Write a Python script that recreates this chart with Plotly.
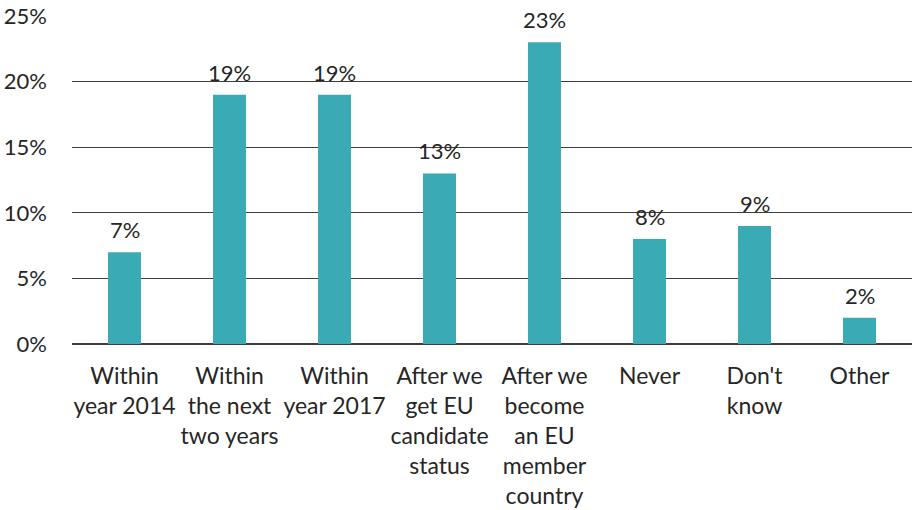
import plotly.graph_objects as go

categories = [
    "Within<br>year 2014",
    "Within<br>the next<br>two years",
    "Within<br>year 2017",
    "After we<br>get EU<br>candidate<br>status",
    "After we<br>become<br>an EU<br>member<br>country",
    "Never",
    "Don't<br>know",
    "Other",
]
shares = [7, 19, 19, 13, 23, 8, 9, 2]
y_ticks = [0, 5, 10, 15, 20, 25]
y_tick_labels = [f"{v}%" for v in y_ticks]

BAR_COLOR = "#3AAAB5"
TEXT_COLOR = "#262626"
FONT = "Lato, 'Open Sans', sans-serif"

fig = go.Figure(
    go.Bar(
        x=categories,
        y=shares,
        marker=dict(color=BAR_COLOR, line=dict(width=0)),
        hoverinfo="skip",
    )
)

# Value labels above each bar
for cat, val in zip(categories, shares):
    fig.add_annotation(
        x=cat, y=val, text=f"{val}%", showarrow=False,
        yanchor="bottom", yshift=7,
        font=dict(family=FONT, size=22, color=TEXT_COLOR),
    )

fig.update_layout(
    width=912, height=510,
    margin=dict(l=72, r=0, t=16, b=166),
    paper_bgcolor="white", plot_bgcolor="white",
    bargap=0.686,
    showlegend=False,
    font=dict(family=FONT, size=22, color=TEXT_COLOR),
)
fig.update_xaxes(
    showgrid=False, showline=False, zeroline=False,
    ticks="", ticklen=0, tickfont=dict(size=23, color=TEXT_COLOR),
    tickangle=0, ticklabelstandoff=16,
)
fig.update_yaxes(
    range=[0, 25], tickvals=y_ticks, ticktext=y_tick_labels,
    showgrid=True, gridcolor="#3c3c3c", gridwidth=1,
    zeroline=True, zerolinecolor="#3c3c3c", zerolinewidth=2,
    showline=False, ticks="", ticklabelstandoff=24,
    tickfont=dict(size=22, color=TEXT_COLOR),
)

fig.write_html("out.html")
